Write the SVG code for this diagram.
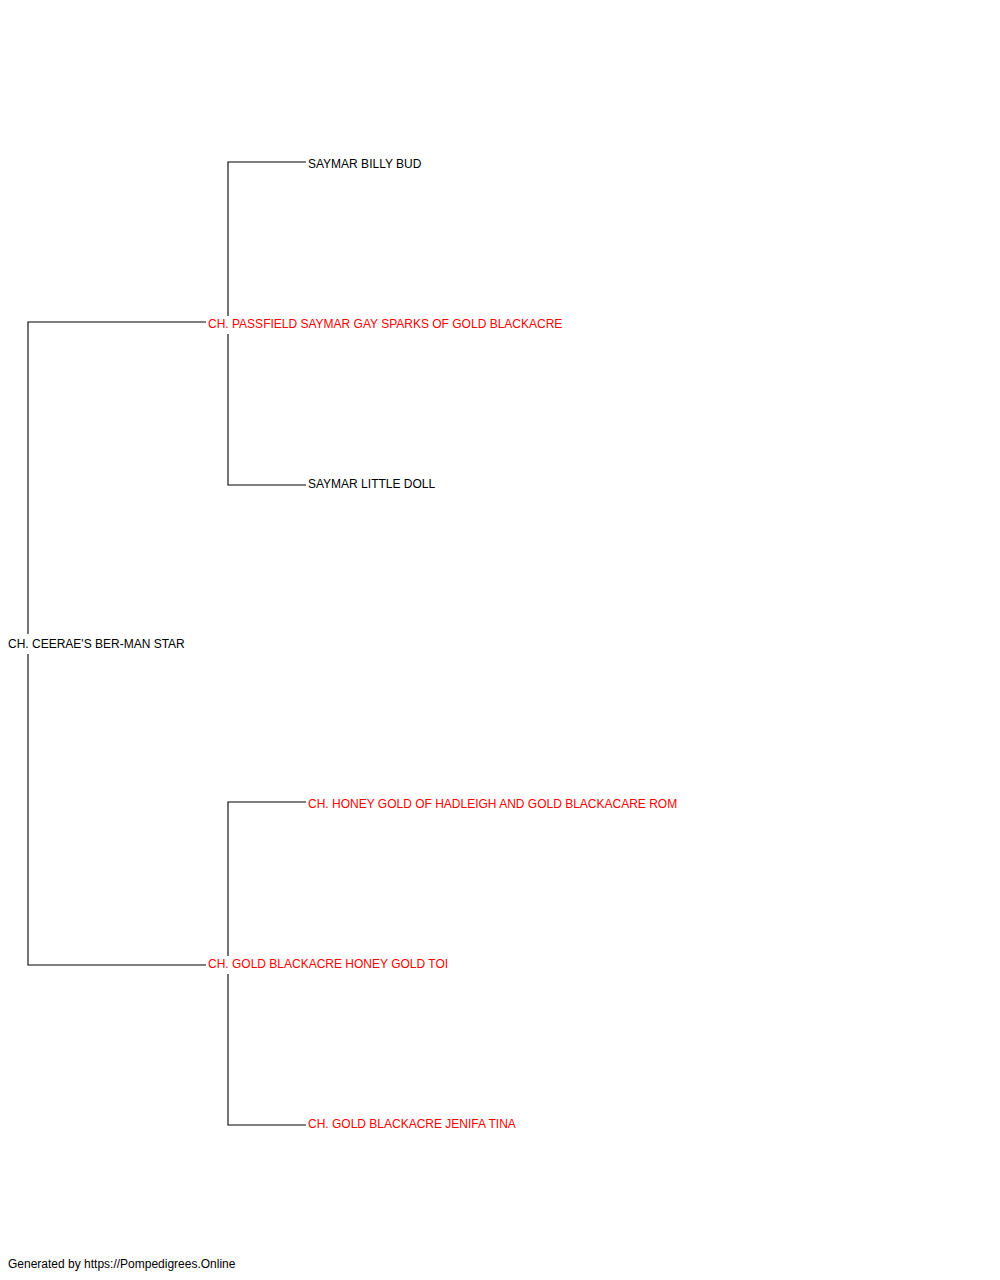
<svg xmlns="http://www.w3.org/2000/svg" width="1000" height="1280" viewBox="0 0 1000 1280">
<style>
.c{stroke:#000;stroke-width:1.1;fill:none}
text{font-family:"Liberation Sans",Arial,sans-serif;font-size:12px;fill:#000}
.r{fill:#ff0000}
</style>
<rect width="1000" height="1280" fill="#fff"/>
<g id="connectors">
<path class="c" d="M28,634 V322 H206"/>
<path class="c" d="M28,654 V965 H206"/>
<path class="c" d="M228,316 V162 H306"/>
<path class="c" d="M228,334 V485 H306"/>
<path class="c" d="M228,956 V802 H306"/>
<path class="c" d="M228,974 V1125 H306"/>
</g>
<g id="n0"><text x="8" y="648">CH. CEERAE'S BER-MAN STAR</text></g>
<g id="n1"><text class="r" x="208" y="328">CH. PASSFIELD SAYMAR GAY SPARKS OF GOLD BLACKACRE</text></g>
<g id="n2"><text class="r" x="208" y="968">CH. GOLD BLACKACRE HONEY GOLD TOI</text></g>
<g id="n3"><text x="308" y="168">SAYMAR BILLY BUD</text></g>
<g id="n4"><text x="308" y="488">SAYMAR LITTLE DOLL</text></g>
<g id="n5"><text class="r" x="308" y="808">CH. HONEY GOLD OF HADLEIGH AND GOLD BLACKACARE ROM</text></g>
<g id="n6"><text class="r" x="308" y="1128">CH. GOLD BLACKACRE JENIFA TINA</text></g>
<g id="footer"><text x="8" y="1268">Generated by https://Pompedigrees.Online</text></g>
</svg>
